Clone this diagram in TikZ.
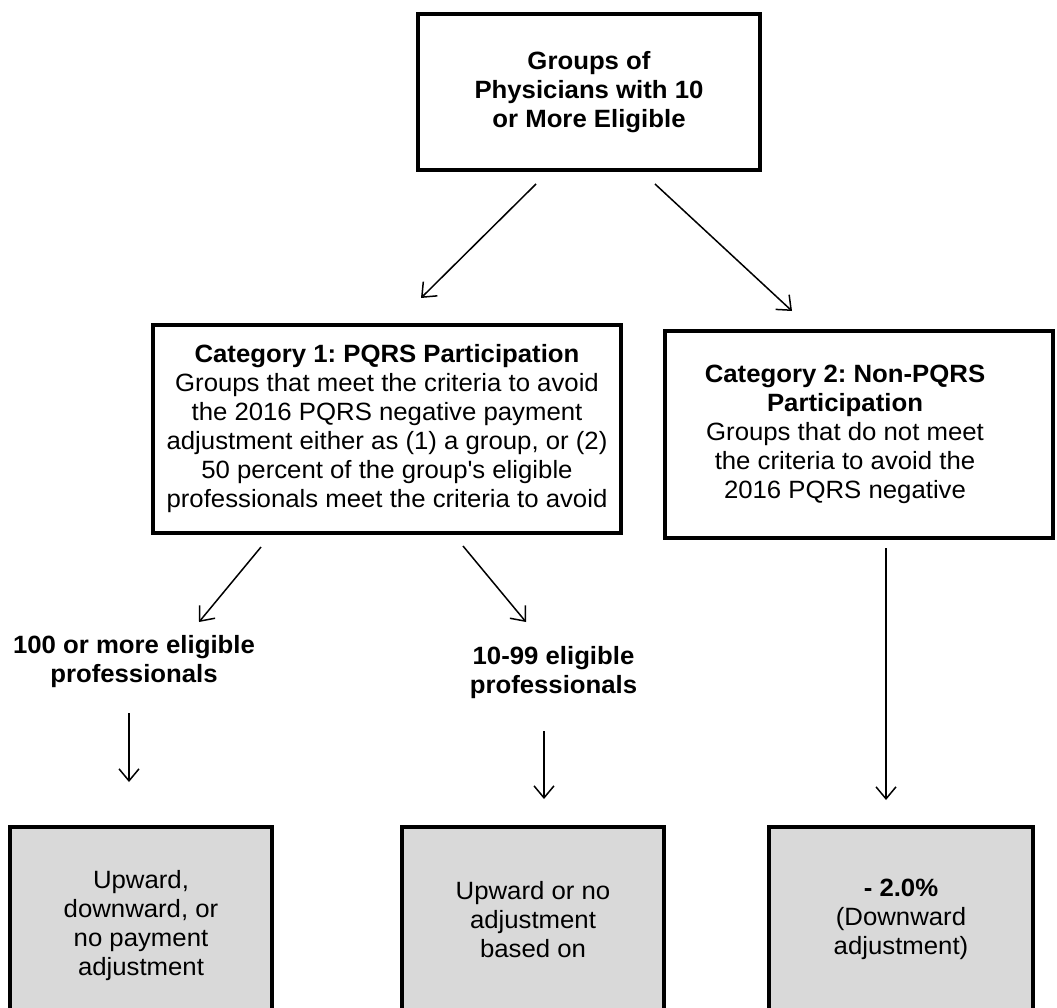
\documentclass[tikz,border=0pt]{standalone}
\usepackage{fontspec}
\setmainfont{Liberation Sans}[FakeStretch=1.03]
\usetikzlibrary{arrows.meta}
\newcommand{\unitsize}{1pt}
\frenchspacing

\begin{document}
\begin{tikzpicture}[x=\unitsize, y=\unitsize]
\useasboundingbox (0,0) rectangle (1057,-1007);
\clip (0,0) rectangle (1057,-1007);
\tikzstyle{every node}=[align=center,
			inner sep=0pt,
			font=\fontsize{25}{29}\selectfont
			]
\tikzstyle{catbox}=[draw, line width=3.5pt, fill=white]
\tikzstyle{resbox}=[draw, line width=3.5pt, fill=black!15,
			minimum width=262*\unitsize,
			minimum height=185*\unitsize]
\tikzstyle{sizelabel}=[font=\bfseries\fontsize{25}{29}\selectfont]
\tikzstyle{arr}=[-{Straight Barb[length=12pt,width=20pt]}, line width=1.5pt]

% boxes
\node[catbox, minimum width=342*\unitsize, minimum height=156*\unitsize,
      font=\bfseries\fontsize{25}{29}\selectfont] (groups) at (589*\unitsize,-92*\unitsize)
      {Groups of\\Physicians with 10\\or More Eligible};

\node[catbox, minimum width=468*\unitsize, minimum height=208*\unitsize] (cat1) at (387*\unitsize,-429*\unitsize)
      {\textbf{Category 1: PQRS Participation}\\
       Groups that meet the criteria to avoid\\
       the 2016 PQRS negative payment\\
       adjustment either as (1) a group, or (2)\\
       50 percent of the group\textquotesingle s eligible\\
       professionals meet the criteria to avoid};

\node[catbox, minimum width=388*\unitsize, minimum height=207*\unitsize]
      (cat2) at (859*\unitsize,-434.5*\unitsize) {};
\node (cat2text) at ([xshift=-14*\unitsize]cat2.center)
      {\textbf{Category 2: Non-PQRS}\\ \textbf{Participation}\\
       Groups that do not meet\\the criteria to avoid the\\2016 PQRS negative};

% group sizes
\node[sizelabel] (large) at (134*\unitsize,-662*\unitsize) {100 or more eligible\\professionals};
\node[sizelabel] (small) at (553.5*\unitsize,-673*\unitsize) {10-99 eligible\\professionals};

% adjustments
\node[resbox, minimum height=198*\unitsize] (res1) at (141*\unitsize,-926*\unitsize) {Upward,\\downward, or\\no payment\\adjustment};
\node[resbox] (res2) at (533*\unitsize,-919.5*\unitsize) {Upward or no\\adjustment\\based on};
\node[resbox, minimum width=264*\unitsize] (res3) at (901*\unitsize,-919.5*\unitsize) {\textbf{- 2.0\%}\\(Downward\\adjustment)};

% arrow ends
\coordinate (g1) at (536*\unitsize,-184*\unitsize);
\coordinate (g2) at (655*\unitsize,-184*\unitsize);
\coordinate (c1) at (421*\unitsize,-298*\unitsize);
\coordinate (c2) at (792*\unitsize,-311*\unitsize);
\coordinate (p1) at (261*\unitsize,-547*\unitsize);
\coordinate (p2) at (463*\unitsize,-546*\unitsize);
\coordinate (l1) at (199*\unitsize,-622*\unitsize);
\coordinate (l2) at (526*\unitsize,-622*\unitsize);
\coordinate (q1) at (129*\unitsize,-713*\unitsize);
\coordinate (r1) at (129*\unitsize,-782*\unitsize);
\coordinate (q2) at (544*\unitsize,-731*\unitsize);
\coordinate (r2) at (544*\unitsize,-799*\unitsize);
\coordinate (q3) at (886*\unitsize,-548*\unitsize);
\coordinate (r3) at (886*\unitsize,-800*\unitsize);

\draw[arr] (g1) -- (c1);
\draw[arr] (g2) -- (c2);
\draw[arr] (p1) -- (l1);
\draw[arr] (p2) -- (l2);
\draw[arr] (q1) -- (r1);
\draw[arr] (q2) -- (r2);
\draw[arr] (q3) -- (r3);

\end{tikzpicture}
\end{document}
